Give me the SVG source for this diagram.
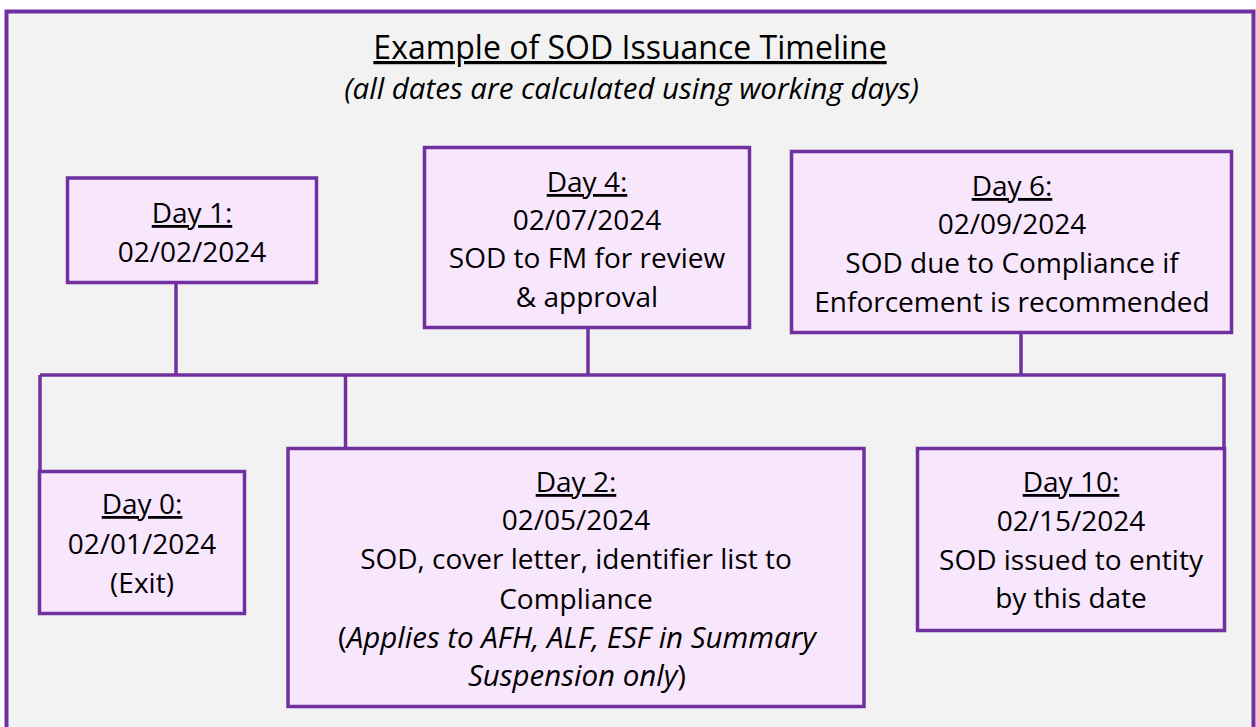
<svg xmlns="http://www.w3.org/2000/svg" width="1256" height="727" viewBox="0 0 1256 727">
  <style>
    .frame { fill: #F2F2F2; stroke: #7030A0; stroke-width: 4; }
    .box { fill: #F8E6FC; stroke: #7030A0; stroke-width: 3.5; }
    .wire { fill: none; stroke: #7030A0; stroke-width: 3.5; }
    text { font-family: "Open Sans", "Liberation Sans", sans-serif; font-size: 28px; fill: #000; text-anchor: middle; }
    .u { text-decoration: underline; }
    .i { font-style: italic; }
    .note { font-size: 29.5px; }
  </style>
  <rect width="1256" height="727" fill="#FFFFFF"/>
  <rect class="frame" x="6.5" y="11.5" width="1247" height="730"/>

  <g id="title">
    <text x="630" y="59" class="u" style="font-size:32px">Example of SOD Issuance Timeline</text>
    <text x="631.5" y="99" class="i" style="font-size:29.5px">(all dates are calculated using working days)</text>
  </g>

  <g id="connectors">
    <path class="wire" d="M176 283 V375"/>
    <path class="wire" d="M588 328 V375"/>
    <path class="wire" d="M1021 333 V375"/>
    <path class="wire" d="M40 375 H1224 V448"/>
    <path class="wire" d="M40 375 V471"/>
    <path class="wire" d="M345.5 375 V448"/>
  </g>

  <g id="day1">
    <rect class="box" x="67.5" y="178" width="249" height="104.5"/>
    <text x="192" y="223" class="u">Day 1:</text>
    <text x="192" y="262">02/02/2024</text>
  </g>

  <g id="day4">
    <rect class="box" x="424.5" y="147.5" width="325" height="180"/>
    <text x="587" y="192" class="u">Day 4:</text>
    <text x="587" y="230">02/07/2024</text>
    <text x="587" y="268">SOD to FM for review</text>
    <text x="587" y="307">&amp; approval</text>
  </g>

  <g id="day6">
    <rect class="box" x="791.5" y="151.5" width="440" height="181"/>
    <text x="1012" y="196" class="u">Day 6:</text>
    <text x="1012" y="234">02/09/2024</text>
    <text x="1012" y="273">SOD due to Compliance if</text>
    <text x="1012" y="312">Enforcement is recommended</text>
  </g>

  <g id="day0">
    <rect class="box" x="39.5" y="471.5" width="205" height="142"/>
    <text x="142" y="514" class="u">Day 0:</text>
    <text x="142" y="554">02/01/2024</text>
    <text x="142" y="593">(Exit)</text>
  </g>

  <g id="day2">
    <rect class="box" x="288" y="448.5" width="576" height="258"/>
    <text x="576" y="492" class="u">Day 2:</text>
    <text x="576" y="530">02/05/2024</text>
    <text x="576" y="569">SOD, cover letter, identifier list to</text>
    <text x="576" y="609">Compliance</text>
    <text x="577" y="648" class="note">(<tspan class="i">Applies to AFH, ALF, ESF in Summary</tspan></text>
    <text x="577" y="686" class="note"><tspan class="i">Suspension only</tspan>)</text>
  </g>

  <g id="day10">
    <rect class="box" x="917.5" y="448.5" width="307" height="182"/>
    <text x="1071" y="492" class="u">Day 10:</text>
    <text x="1071" y="531">02/15/2024</text>
    <text x="1071" y="570">SOD issued to entity</text>
    <text x="1071" y="608">by this date</text>
  </g>
</svg>
